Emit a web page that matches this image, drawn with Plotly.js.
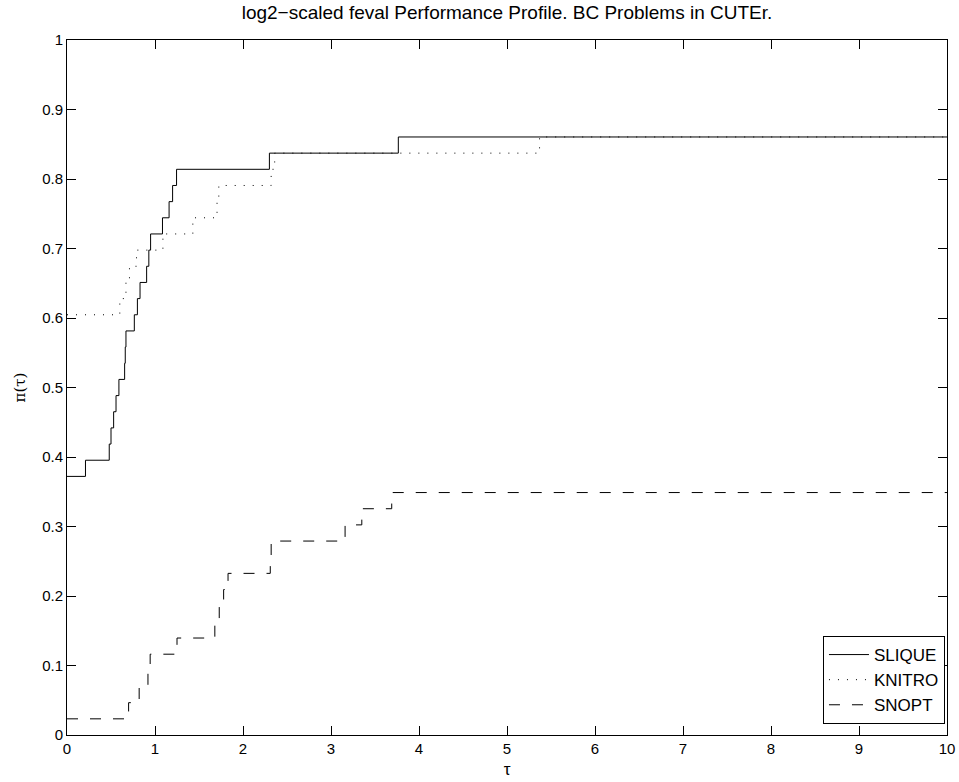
<!DOCTYPE html>
<html>
<head>
<meta charset="utf-8">
<script src="https://cdn.plot.ly/plotly-3.0.1.min.js"></script>
<style>
html,body{margin:0;padding:0;background:#fff;}
#chart{width:959px;height:782px;}
</style>
</head>
<body>
<div id="chart"></div>
<script>
// Number of problems in the test set
const nProblems = 43;

// SLIQUE: tau where step occurs, number of problems solved
const sliqueTau   = [0, 0.21, 0.48, 0.50, 0.53, 0.557, 0.59, 0.655, 0.662, 0.67, 0.765, 0.80, 0.83, 0.905, 0.93, 0.95, 1.085, 1.16, 1.20, 1.245, 2.30, 3.765, 10];
const sliqueCount = [16, 17, 18, 19, 20, 21, 22, 23, 24, 25, 26, 27, 28, 29, 30, 31, 32, 33, 34, 35, 36, 37, 37];

// KNITRO
const knitroTau   = [0, 0.60, 0.67, 0.71, 0.79, 1.09, 1.43, 1.705, 1.725, 2.32, 2.36, 5.37, 10];
const knitroCount = [26, 27, 28, 29, 30, 31, 32, 33, 34, 35, 36, 37, 37];

// SNOPT
const snoptTau   = [0, 0.70, 0.82, 0.92, 0.945, 1.25, 1.68, 1.73, 1.78, 1.83, 2.31, 2.32, 3.16, 3.35, 3.69, 10];
const snoptCount = [1, 2, 3, 4, 5, 6, 7, 8, 9, 10, 11, 12, 13, 14, 15, 15];

const seriesNames = ['SLIQUE', 'KNITRO', 'SNOPT'];
const xTickVals = [0,1,2,3,4,5,6,7,8,9,10];
const yTickVals = [0,0.1,0.2,0.3,0.4,0.5,0.6,0.7,0.8,0.9,1];
const yTickText = ['0','0.1','0.2','0.3','0.4','0.5','0.6','0.7','0.8','0.9','1'];

const frac = arr => arr.map(c => c / nProblems);

const font = 'Liberation Sans, Arial, Helvetica, sans-serif';

const traces = [
  {x: sliqueTau, y: frac(sliqueCount), name: seriesNames[0], mode: 'lines',
   line: {shape: 'hv', color: '#000', width: 1}},
  {x: knitroTau, y: frac(knitroCount), name: seriesNames[1], mode: 'lines',
   line: {shape: 'hv', color: '#000', width: 1, dash: '1px,8px'}},
  {x: snoptTau, y: frac(snoptCount), name: seriesNames[2], mode: 'lines',
   line: {shape: 'hv', color: '#000', width: 1, dash: '11px,12px'}}
];

const axisCommon = {
  showgrid: false, zeroline: false, showline: true, linecolor: '#000', linewidth: 1,
  mirror: 'ticks', ticks: 'inside', ticklen: 9, tickcolor: '#000', tickwidth: 1,
  tickfont: {family: font, size: 15, color: '#000'}
};

const layout = {
  width: 959, height: 782,
  margin: {l: 67, r: 12, t: 40, b: 47},
  paper_bgcolor: '#fff', plot_bgcolor: '#fff',
  title: {text: 'log2\u2212scaled feval Performance Profile. BC Problems in CUTEr.',
          font: {family: font, size: 19, color: '#000'},
          x: 0.5, xref: 'paper', xanchor: 'center', y: 1, yref: 'container', yanchor: 'top', pad: {t: 6}},
  xaxis: Object.assign({}, axisCommon, {
    range: [0, 10], tickvals: xTickVals, ticktext: xTickVals.map(String),
    title: {text: '\u03c4', font: {family: font, size: 17, color: '#000'}, standoff: 7}
  }),
  yaxis: Object.assign({}, axisCommon, {
    range: [0, 1], tickvals: yTickVals, ticktext: yTickText,
    title: {text: '\u03c0(\u03c4)', font: {family: 'DejaVu Serif, serif', size: 15, color: '#000'}, standoff: 12}
  }),
  showlegend: true,
  legend: {
    x: 0.9977, xanchor: 'right', y: 0.0158, yanchor: 'bottom',
    bgcolor: '#fff', bordercolor: '#000', borderwidth: 1,
    font: {family: font, size: 17, color: '#000'},
    itemwidth: 40, tracegroupgap: 0
  }
};

Plotly.newPlot('chart', traces, layout, {displayModeBar: false, staticPlot: true});
</script>
</body>
</html>
